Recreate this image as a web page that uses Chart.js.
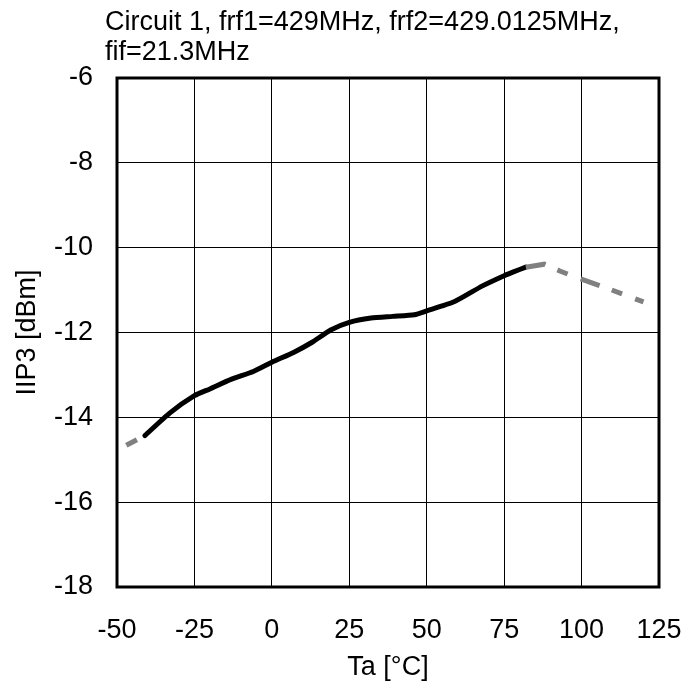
<!DOCTYPE html>
<html>
<head>
<meta charset="utf-8">
<script src="https://cdn.jsdelivr.net/npm/chart.js@4"></script>
<style>
  html, body { margin: 0; padding: 0; background: #fff; }
  #wrap { width: 689px; height: 686px; }
</style>
</head>
<body>
<div id="wrap"><canvas id="chart" width="689" height="686"></canvas></div>
<script>
// IIP3 vs ambient temperature
const titleLines = ['Circuit 1, frf1=429MHz, frf2=429.0125MHz,', 'fif=21.3MHz'];

const tempMeasured = [-41, -33, -25, -20, -13, -6, 0, 7, 13, 19, 25, 32, 39, 46, 50, 59, 68, 75, 78, 82];
const iip3Measured = [-14.43, -13.9, -13.49, -13.33, -13.1, -12.92, -12.7, -12.47, -12.23, -11.94, -11.76, -11.66, -11.62, -11.58, -11.49, -11.27, -10.9, -10.66, -10.57, -10.46];

// dashed gray parts (outside the guaranteed range)
const tempLow = [-47, -41];
const iip3Low = [-14.66, -14.43];
const tempHigh = [82, 88, 93, 99, 108, 120];
const iip3High = [-10.46, -10.39, -10.55, -10.72, -10.95, -11.28];

const xTicks = [-50, -25, 0, 25, 50, 75, 100, 125];
const yTicks = [-18, -16, -14, -12, -10, -8, -6];

function pts(xs, ys) {
  return xs.map((x, i) => ({x: x, y: ys[i]}));
}

const font = 'Liberation Sans, Arial, sans-serif';
const fontSize = 27;

const frameAndTitle = {
  id: 'frameAndTitle',
  afterDraw(chart) {
    const {ctx, chartArea: a} = chart;
    ctx.save();
    ctx.strokeStyle = '#000';
    ctx.lineWidth = 3;
    ctx.strokeRect(a.left, a.top, a.right - a.left, a.bottom - a.top);
    ctx.fillStyle = '#000';
    ctx.font = fontSize + 'px ' + font;
    ctx.textBaseline = 'middle';
    ctx.textAlign = 'left';
    ctx.fillText(titleLines[0], 105, 23);
    ctx.fillText(titleLines[1], 105, 53);
    ctx.restore();
  }
};

const ctx = document.getElementById('chart').getContext('2d');
const myChart = new Chart(ctx, {
  type: 'line',
  data: {
    datasets: [{
      data: pts(tempLow, iip3Low),
      borderColor: '#808080',
      borderWidth: 5,
      borderDash: [12, 13],
      pointRadius: 0
    }, {
      data: pts(tempHigh, iip3High),
      borderColor: '#808080',
      borderWidth: 5,
      borderDash: [20, 13, 11, 14],
      pointRadius: 0
    }, {
      data: pts(tempMeasured, iip3Measured),
      borderColor: '#000',
      borderWidth: 5,
      pointRadius: 0,
      borderCapStyle: 'round',
      borderJoinStyle: 'round',
      tension: 0.2
    }]
  },
  options: {
    responsive: false,
    animation: false,
    layout: { padding: { top: 78, right: 30, left: 0, bottom: 0 } },
    plugins: { legend: { display: false }, tooltip: { enabled: false } },
    scales: {
      x: {
        type: 'linear',
        min: -50, max: 125,
        afterBuildTicks: s => { s.ticks = xTicks.map(v => ({value: v})); },
        afterFit: s => { s.height = 99; s.paddingLeft = 0; s.paddingRight = 0; },
        grid: { color: '#000', lineWidth: 1, drawTicks: false },
        border: { display: false },
        ticks: { color: '#000', font: { family: font, size: fontSize }, padding: 27, maxRotation: 0 },
        title: { display: true, text: 'Ta [°C]', color: '#000', font: { family: font, size: fontSize }, padding: { top: 0, bottom: 2 } }
      },
      y: {
        min: -18, max: -6,
        afterBuildTicks: s => { s.ticks = yTicks.map(v => ({value: v})); },
        afterFit: s => { s.width = 117; s.paddingTop = 0; s.paddingBottom = 0; },
        grid: { color: '#000', lineWidth: 1, drawTicks: false },
        border: { display: false },
        ticks: { color: '#000', font: { family: font, size: fontSize }, padding: 24 },
        title: { display: true, text: 'IIP3 [dBm]', color: '#000', font: { family: font, size: fontSize }, padding: { top: 11, bottom: 0 } }
      }
    }
  },
  plugins: [frameAndTitle]
});
</script>
</body>
</html>
